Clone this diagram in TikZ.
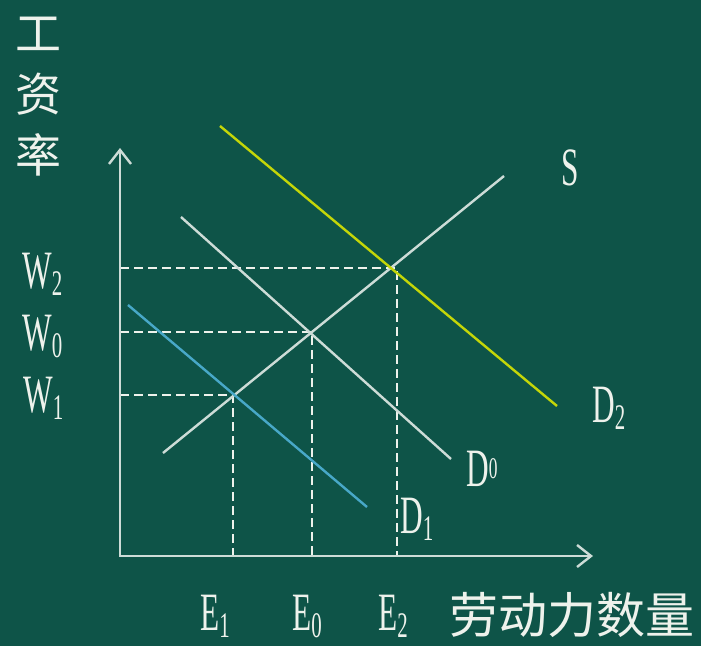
\documentclass[tikz,border=0pt]{standalone}
\usepackage{fontspec}
\setmainfont{Liberation Serif}
\newfontfamily\cjk{Noto Sans CJK SC}
\usetikzlibrary{arrows.meta}
\definecolor{figFondo}{RGB}{14,84,72}
\definecolor{figEje}{RGB}{205,220,215}
\definecolor{figTexto}{RGB}{238,242,236}
\definecolor{figAzul}{RGB}{72,168,200}
\definecolor{figAmarillo}{RGB}{196,214,8}
% letra + subindice, estrechadas como en el original
\newcommand{\etq}[2]{\scalebox{0.58}[1]{#1\raisebox{-7pt}{\fontsize{36}{36}\selectfont #2}}}
\tikzset{
  eje/.style={{Straight Barb[length=14pt,width=22pt]}-{Straight Barb[length=14pt,width=22pt]},
    line width=2.4pt, draw=figEje},
  curva/.style={line width=2.4pt, draw=figEje},
  guia/.style={line width=2.2pt, draw=figTexto, dash pattern=on 9pt off 5pt},
  letra/.style={text=figTexto, font=\fontsize{54}{54}\selectfont, inner sep=0pt, anchor=base west},
  hanzi/.style={text=figTexto, font=\cjk\fontsize{46}{46}\selectfont, inner sep=0pt}
}
\begin{document}
\begin{tikzpicture}[x=1pt, y=-1pt]
  \fill[figFondo] (0,0) rectangle (701,646);
  \useasboundingbox (0,0) rectangle (701,646);

  \coordinate (O) at (120,556);
  \coordinate (ytop) at (120,148);
  \coordinate (xend) at (593,556);

  \coordinate (s1) at (163,453);
  \coordinate (s2) at (504,176);
  \coordinate (d0a) at (181,217);
  \coordinate (d0b) at (451,459);
  \coordinate (d1a) at (128,305);
  \coordinate (d1b) at (367,507);
  \coordinate (d2a) at (220,126);
  \coordinate (d2b) at (557,406);

  \coordinate (e1) at (233,395);
  \coordinate (e0) at (312,332);
  \coordinate (e2) at (397,268);

  % lineas guia
  \draw[guia] (O |- e1) -- (e1) -- (e1 |- O);
  \draw[guia] (O |- e0) -- (e0) -- (e0 |- O);
  \draw[guia] (O |- e2) -- (e2) -- (e2 |- O);

  \draw[eje] (ytop) |- (xend);

  \draw[curva] (s1) -- (s2);
  \draw[curva] (d0a) -- (d0b);
  \draw[curva, draw=figAzul] (d1a) -- (d1b);
  \draw[curva, draw=figAmarillo] (d2a) -- (d2b);

  \node[hanzi] (gong) at (38,34) {工};
  \node[hanzi] (zi) at (38,94) {资};
  \node[hanzi] (lv) at (38,155) {率};
  \node[hanzi, font=\cjk\fontsize{49}{49}\selectfont] (cantidad) at (572,615) {劳动力数量};

  \node[letra] (w2) at (22,288) {\etq{W}{2}};
  \node[letra] (w0) at (22,350) {\etq{W}{0}};
  \node[letra] (w1) at (23,412) {\etq{W}{1}};

  \node[letra] (lblE1) at (200,630) {\etq{E}{1}};
  \node[letra] (lblE0) at (292,630) {\etq{E}{0}};
  \node[letra] (lblE2) at (378,630) {\etq{E}{2}};

  \node[letra] (lblS) at (561,185) {\scalebox{0.58}[1]{S}};
  \node[letra] (lblD2) at (592,422) {\etq{D}{2}};
  \node[letra] (lblD0) at (466,486) {\scalebox{0.58}[1]{D\raisebox{8pt}{\fontsize{30}{30}\selectfont 0}}};
  \node[letra] (lblD1) at (400,533) {\etq{D}{1}};
\end{tikzpicture}
\end{document}
